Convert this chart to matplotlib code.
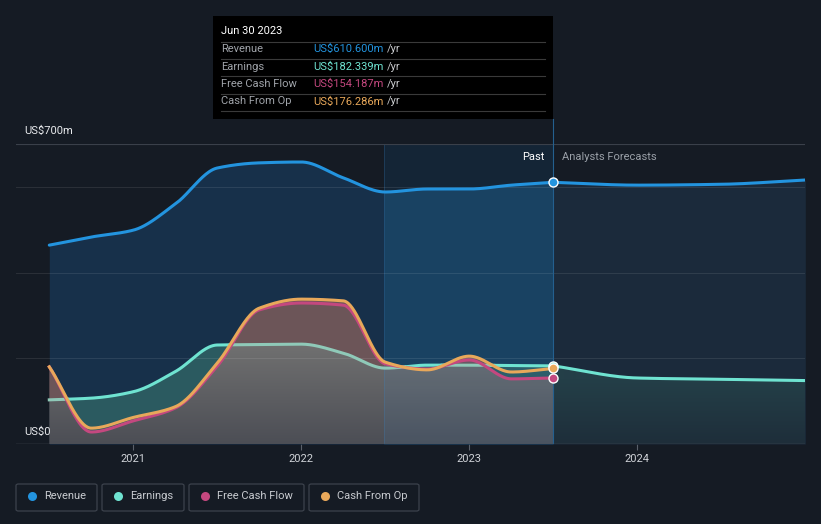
import numpy as np
import matplotlib
matplotlib.use("Agg")
import matplotlib.pyplot as plt
from matplotlib.patches import Rectangle, FancyBboxPatch
from matplotlib.lines import Line2D
from matplotlib.path import Path

plt.rcParams['font.family'] = ['Roboto', 'DejaVu Sans']

# ---- data (US$ m), quarterly trailing twelve months ----
past_t = [2020.5, 2020.75, 2021.0, 2021.25, 2021.5, 2021.75, 2022.0, 2022.25,
          2022.5, 2022.75, 2023.0, 2023.25, 2023.5]
revenue = [464, 483, 499, 560, 644, 656, 658, 621, 588, 595, 595, 604, 610.6]
earnings = [103, 107, 122, 169, 231, 232, 233, 212, 177, 184, 184, 183, 182.3]
fcf = [180, 28, 54, 84, 182, 313, 329, 324, 187, 175, 196, 152, 154.2]
cfo = [180, 37, 62, 87, 189, 317, 338, 334, 191, 173, 205, 168, 176.3]

fc_t = [2023.5, 2024.0, 2024.5, 2025.0]
revenue_fc = [610.6, 604, 606, 616]
earnings_fc = [182.3, 154, 151, 148]

year_ticks = [2021, 2022, 2023, 2024]
year_labels = ["2021", "2022", "2023", "2024"]
band_start = 2022.49

BG = '#151b24'
C_REV = '#2394df'
C_EARN = '#6fe3d1'
C_EARN_MUTED = '#8fc9b8'
C_FCF = '#c4487f'
C_CFO = '#e8a85a'

W, H = 821, 524


def pchip(x, y, xs):
    x = np.asarray(x, float); y = np.asarray(y, float)
    n = len(x)
    h = np.diff(x); d = np.diff(y) / h
    m = np.zeros(n)
    m[0] = d[0]; m[-1] = d[-1]
    for k in range(1, n - 1):
        if d[k - 1] * d[k] <= 0:
            m[k] = 0
        else:
            w1 = 2 * h[k] + h[k - 1]; w2 = h[k] + 2 * h[k - 1]
            m[k] = (w1 + w2) / (w1 / d[k - 1] + w2 / d[k])
    out = np.empty_like(xs)
    idx = np.clip(np.searchsorted(x, xs) - 1, 0, n - 2)
    for i, (xi, k) in enumerate(zip(xs, idx)):
        t = (xi - x[k]) / h[k]
        h00 = 2 * t**3 - 3 * t**2 + 1; h10 = t**3 - 2 * t**2 + t
        h01 = -2 * t**3 + 3 * t**2; h11 = t**3 - t**2
        out[i] = h00 * y[k] + h10 * h[k] * m[k] + h01 * y[k + 1] + h11 * h[k] * m[k + 1]
    return out


fig = plt.figure(figsize=(W / 100, H / 100), dpi=100, facecolor=BG)


def fx(px):
    return px / W


def fy(py):
    return 1 - py / H


ax = fig.add_axes([fx(16), fy(444), fx(805) - fx(16), fy(144) - fy(444)])
ax.set_facecolor(BG)
x0 = 2021 - (133.3 - 16) / 168
x1 = 2024 + (805 - 637.3) / 168
YMAX = 700


def grad_fill(x, y1, y2, c_top, c_bot, v_top, v_bot, zorder, where=None):
    poly = ax.fill_between(x, y1, y2, where=where, interpolate=True,
                           facecolor='none', edgecolor='none', lw=0)
    paths = poly.get_paths()
    if not paths:
        return
    vals = np.linspace(0, YMAX, 300)
    t = np.clip((vals - v_bot) / (v_top - v_bot), 0, 1)[:, None]
    c_top = np.array(matplotlib.colors.to_rgb(c_top))
    c_bot = np.array(matplotlib.colors.to_rgb(c_bot))
    img = ((1 - t) * c_bot + t * c_top)[:, None, :]
    im = ax.imshow(img, extent=[x0, x1, 0, YMAX], origin='lower', aspect='auto',
                   zorder=zorder, interpolation='bilinear')
    im.set_clip_path(Path.make_compound_path(*paths), ax.transData)


xp = np.union1d(np.linspace(past_t[0], past_t[-1], 500), [band_start])
xf = np.linspace(fc_t[0], fc_t[-1], 200)
rev_p = pchip(past_t, revenue, xp)
ear_p = pchip(past_t, earnings, xp)
fcf_p = pchip(past_t, fcf, xp)
cfo_p = pchip(past_t, cfo, xp)
rev_f = pchip(fc_t, revenue_fc, xf)
ear_f = pchip(fc_t, earnings_fc, xf)

lo_cf = np.minimum(fcf_p, cfo_p)
hi_cf = np.maximum(fcf_p, cfo_p)
lo_all = np.minimum(ear_p, lo_cf)
hi_all = np.maximum(ear_p, hi_cf)
inband = xp >= band_start
preband = xp <= band_start

# gridlines (drawn over fills, faint)
for g in [200, 400, 600]:
    ax.axhline(g, color='white', alpha=0.09, lw=0.8, zorder=4.5)
ax.axhline(700, color='#3a404a', lw=0.8, zorder=4.5)

# highlighted last-year band above revenue
ax.fill_between(xp, rev_p, YMAX, where=inband, color='#142536', lw=0, zorder=1.2)
ax.axvline(band_start, color='#3a86c8', alpha=0.25, lw=0.7, zorder=4.4)

# revenue fills
ax.fill_between(xp, 0, rev_p, where=preband, color='#17304a', lw=0, zorder=2)
ax.fill_between(xp, 0, rev_p, where=inband, color='#194262', lw=0, zorder=2)
ax.fill_between(xf, 0, rev_f, color='#1b2a3b', lw=0, zorder=2)

# lower fills (past)
grad_fill(xp, 0, lo_all, '#707070', '#4c4e55', 230, 0, zorder=3)
ax.fill_between(xp, lo_cf, ear_p, where=ear_p > lo_cf, interpolate=True,
                color='#2b5a60', lw=0, zorder=3)
ax.fill_between(xp, ear_p, hi_cf, where=hi_cf > ear_p, interpolate=True,
                color='#6c5558', lw=0, zorder=3)
ax.fill_between(xp, 0, hi_all, where=inband, color='#3a8ad0', alpha=0.10, lw=0, zorder=3.2)

# forecast earnings fill
grad_fill(xf, 0, ear_f, '#243f48', '#1e2e3a', 150, 0, zorder=3)

# lines
lw = 2.2
ax.plot(xp, rev_p, color=C_REV, lw=lw, zorder=5, solid_capstyle='round')
ax.plot(xf, rev_f, color=C_REV, lw=lw, zorder=5)
ear_vis = np.where(ear_p >= hi_cf - 2, ear_p, np.nan)
ear_hid = np.where(ear_p <= hi_cf + 2, ear_p, np.nan)
ax.plot(xp, ear_hid, color=C_EARN_MUTED, lw=lw, zorder=4.9)
ax.plot(xp, ear_vis, color=C_EARN, lw=lw, zorder=5)
ax.plot(xf, ear_f, color=C_EARN, lw=lw, zorder=5)
ax.plot(xp, fcf_p, color=C_FCF, lw=lw, zorder=5.1)
ax.plot(xp, cfo_p, color=C_CFO, lw=lw, zorder=5.2)

ax.axhline(0, color='#4a505a', lw=1.0, zorder=6)

# current line
ax.axvline(past_t[-1], color='#24608f', lw=0.8, zorder=4.6)

for val, c in [(revenue[-1], C_REV), (earnings[-1], C_EARN), (cfo[-1], C_CFO), (fcf[-1], C_FCF)]:
    ax.plot([past_t[-1]], [val], 'o', ms=6.5, color=c, mec='white', mew=1.0, zorder=7)

ax.set_xlim(x0, x1)
ax.set_ylim(0, YMAX)
for s in ax.spines.values():
    s.set_visible(False)
ax.set_yticks([])
ax.set_xticks(year_ticks)
ax.set_xticklabels(year_labels, color='#d0d3d8', fontsize=8)
ax.tick_params(axis='x', length=4, color='#5a606a', pad=3)

ax.text(past_t[-1] - 0.05, 670, 'Past', color='white', fontsize=8, ha='right', va='center', zorder=8)
ax.text(past_t[-1] + 0.05, 670, 'Analysts Forecasts', color='#9aa0a8', fontsize=8, ha='left', va='center', zorder=8)

# y labels
fig.text(fx(24), fy(131), 'US$700m', color='#e8eaed', fontsize=8, va='center', ha='left')
fig.text(fx(24), fy(432), 'US$0', color='#e8eaed', fontsize=8, va='center', ha='left')

# vertical line up to tooltip
fig.add_artist(Line2D([fx(552.5), fx(552.5)], [fy(119), fy(144)], color='#24608f', lw=0.8))

# tooltip
fig.add_artist(Rectangle((fx(213), fy(119)), fx(553) - fx(213), fy(16) - fy(119), facecolor='black', edgecolor='none'))
fig.text(fx(221), fy(31), 'Jun 30 2023', color='white', fontsize=8, va='center')
rows = [('Revenue', 'US$610.600m', C_REV), ('Earnings', 'US$182.339m', C_EARN),
        ('Free Cash Flow', 'US$154.187m', C_FCF), ('Cash From Op', 'US$176.286m', C_CFO)]
for i, (lab, val, c) in enumerate(rows):
    yy = 49 + i * 17.5
    fig.text(fx(221), fy(yy), lab, color='#a0a4aa', fontsize=8, va='center')
    fig.text(fx(313), fy(yy), val, color=c, fontsize=8, va='center')
    fig.text(fx(386.5), fy(yy), '/yr', color='#c8cacd', fontsize=8, va='center')
for yy in [41.5, 58.5, 76, 93.5, 111]:
    fig.add_artist(Line2D([fx(221), fx(545)], [fy(yy), fy(yy)], color='#3a3a3a', lw=0.8))

# legend
legend_items = [('Revenue', C_REV, 16, 97), ('Earnings', C_EARN, 102, 184),
                ('Free Cash Flow', C_FCF, 189, 304), ('Cash From Op', C_CFO, 309, 419)]
for lab, c, xa, xb in legend_items:
    fig.add_artist(FancyBboxPatch((fx(xa), fy(511)), fx(xb) - fx(xa), fy(484) - fy(511),
                                  boxstyle='round,pad=0,rounding_size=0.003',
                                  facecolor=BG, edgecolor='#3c424c', lw=0.9))
    fig.add_artist(Line2D([fx(xa + 16)], [fy(496)], marker='o', ms=6.5, color=c, mew=0))
    fig.text(fx(xa + 28), fy(496), lab, color='#c8cbd0', fontsize=8, va='center')

fig.savefig('out.png', dpi=100, facecolor=BG)
